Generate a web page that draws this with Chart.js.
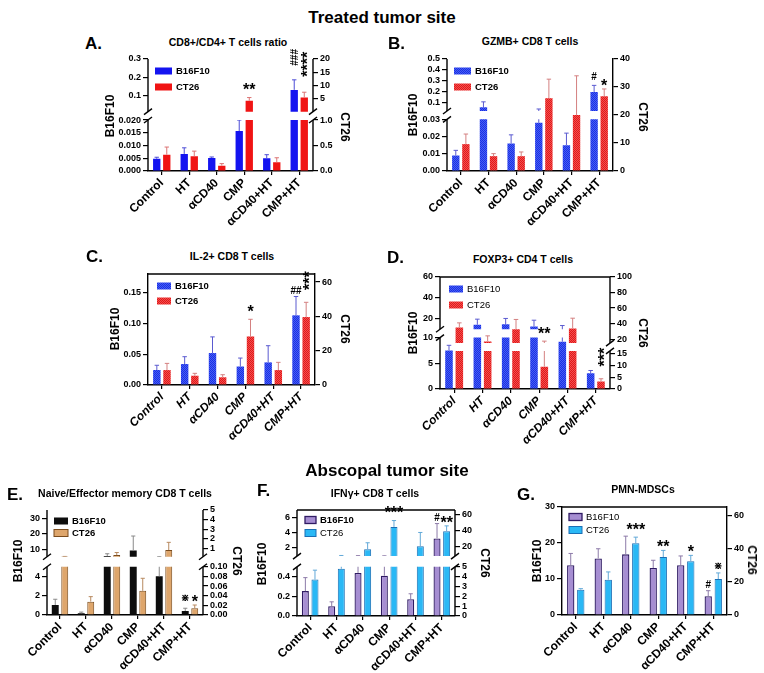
<!DOCTYPE html>
<html lang="en">
<head>
<meta charset="utf-8">
<title>Treated and abscopal tumor site</title>
<script src="https://cdn.jsdelivr.net/npm/chart.js"></script>
<style>
  body { margin: 0; background: #fff; }
  #fig { position: relative; width: 764px; height: 673px; overflow: hidden;
         font-family: "Liberation Sans", Arial, sans-serif; color: #000; }
  #fig canvas { position: absolute; }
  .t { position: absolute; font-weight: bold; white-space: nowrap; line-height: 1; }
</style>
</head>
<body>
<div id="fig"></div>
<script>
// ---- data ----
const cats = ['Control', 'HT', 'αCD40', 'CMP', 'αCD40+HT', 'CMP+HT'];
const seriesNames = ['B16F10', 'CT26'];

// A. CD8+/CD4+ T cells ratio
const aB16 = [0.0048, 0.0067, 0.0051, 0.0157, 0.005, 0.131];
const aB16Err = [0.0054, 0.0091, 0.0055, 0.020, 0.0064, 0.186];
const aCT26 = [0.32, 0.29, 0.105, 4.3, 0.17, 5.5];
const aCT26Err = [0.47, 0.39, 0.145, 5.5, 0.26, 7.5];
const aTicksL = ['0.000', '0.005', '0.010', '0.015', '0.020', '0.1', '0.2', '0.3'];
const aTicksR = ['0.0', '0.5', '1.0', '5', '10', '15', '20'];
const aMarks = [[1, 3, '**'], [0, 5, '####', 'v'], [1, 5, '****', 'v']];

// B. GZMB+ CD8 T cells
const bB16 = [0.009, 0.06, 0.016, 0.028, 0.015, 0.2];
const bB16Err = [0.012, 0.11, 0.021, 0.045, 0.022, 0.26];
const bCT26 = [9.6, 5.3, 5.3, 26, 20, 26.7];
const bCT26Err = [13.2, 6.2, 6.8, 32.8, 34, 29.3];
const bTicksL = ['0.00', '0.01', '0.02', '0.03', '0.1', '0.2', '0.3', '0.4', '0.5'];
const bTicksR = ['0', '10', '20', '30', '40'];
const bMarks = [[0, 5, '#'], [1, 5, '*']];

// C. IL-2+ CD8 T cells
const cB16 = [0.0243, 0.034, 0.0518, 0.030, 0.0367, 0.113];
const cB16Err = [0.032, 0.0459, 0.078, 0.0437, 0.0637, 0.1435];
const cCT26 = [8.7, 5.4, 4.5, 28.3, 8.7, 39.6];
const cCT26Err = [12.6, 6.8, 6.0, 38.3, 13.2, 48.2];
const cTicksL = ['0.00', '0.05', '0.10', '0.15'];
const cTicksR = ['0', '20', '40', '60'];
const cMarks = [[1, 3, '*'], [0, 5, '##'], [1, 5, '***', 'v']];

// D. FOXP3+ CD4 T cells
const dB16 = [7.5, 14.2, 14.8, 12.6, 9.2, 3.05];
const dB16Err = [8.5, 19.6, 20.3, 18.6, 13.5, 3.6];
const dCT26 = [35, 17, 32.9, 9.4, 33.8, 3.1];
const dCT26Err = [41, 24.3, 45.4, 17.5, 47, 4.3];
const dTicksL = ['0', '5', '10', '20', '40', '60'];
const dTicksR = ['0', '5', '10', '15', '20', '40', '60', '80', '100'];
const dMarks = [[1, 3, '**'], [1, 5, '***', 'v']];

// E. Naive/Effector memory CD8 T cells
const eB16 = [1.04, 0.17, 6, 9.4, 4, 0.42];
const eB16Err = [1.63, 0.3, 7.4, 18.7, 5.6, 0.7];
const eCT26 = [0.15, 0.0276, 0.3, 0.05, 0.83, 0.0138];
const eCT26Err = [0.16, 0.038, 0.57, 0.076, 1.63, 0.0207];
const eTicksL = ['0', '2', '4', '10', '20', '30'];
const eTicksR = ['0.00', '0.02', '0.04', '0.06', '0.08', '0.10', '1', '2', '3', '4', '5'];
const eMarks = [[0, 5, '⋇'], [1, 5, '*']];

// F. IFNγ+ CD8 T cells
const fB16 = [0.253, 0.1, 0.438, 0.41, 0.171, 3.24];
const fB16Err = [0.39, 0.144, 0.95, 0.93, 0.226, 5.2];
const fCT26 = [3.7, 4.8, 17, 45, 20.7, 39.6];
const fCT26Err = [4.66, 9, 25, 53, 38, 46.3];
const fTicksL = ['0.0', '0.2', '0.4', '2', '4', '6'];
const fTicksR = ['0', '1', '2', '3', '4', '5', '20', '40', '60'];
const fMarks = [[1, 3, '***'], [0, 5, '#'], [1, 5, '**']];

// G. PMN-MDSCs
const gB16 = [13.8, 15.7, 16.85, 13.05, 13.8, 5.2];
const gB16Err = [17.1, 18.4, 21.9, 15.2, 16.4, 6.75];
const gCT26 = [15.3, 21.3, 43.3, 35, 32.4, 21.7];
const gCT26Err = [15.9, 26, 47, 39, 36, 25.4];
const gTicksL = ['0', '10', '20', '30'];
const gTicksR = ['0', '20', '40', '60'];
const gMarks = [[1, 2, '***'], [1, 3, '**'], [1, 4, '*'], [0, 5, '#'], [1, 5, '⋇']];

const FONT = '"Liberation Sans", Arial, sans-serif';

// small dotted texture like the GraphPad fill in B-D
function texture(a, b) {
  const c = document.createElement('canvas');
  c.width = c.height = 2;
  const g = c.getContext('2d');
  g.fillStyle = a; g.fillRect(0, 0, 2, 2);
  g.fillStyle = b; g.fillRect(0, 0, 1, 1); g.fillRect(1, 1, 1, 1);
  return g.createPattern(c, 'repeat');
}

const STYLES = {
  solid: [{ bg: '#1414f0', bd: '#1414f0', bw: 0, err: '#4c4cd6' },
          { bg: '#f01414', bd: '#f01414', bw: 0, err: '#dc7474' }],
  tex:   [{ bg: texture('#1a2ee6', '#4760f2'), bd: '#1a2ee6', bw: 0, err: '#5a5ad0' },
          { bg: texture('#e21818', '#f25050'), bd: '#e21818', bw: 0, err: '#d48080' }],
  bt:    [{ bg: '#0d0d0d', bd: '#000', bw: 0, err: '#8a8a8a' },
          { bg: '#dea66c', bd: '#7a4b1c', bw: 1, err: '#b88a60' }],
  pb:    [{ bg: '#a68ed2', bd: '#2f1b63', bw: 1.3, err: '#8c7aa8' },
          { bg: '#2ab8f5', bd: '#1a6fb5', bw: 1, err: '#62a9d8' }]
};

// plot rectangles [left, top, right, bottom] and axis breaks
const PANELS = [
  { id: 'A', area: [148, 59, 313, 171], style: 'solid', italic: false, box: false,
    series: [aB16, aB16Err, aCT26, aCT26Err], marks: aMarks,
    yL: { ticks: aTicksL, brk: { lo: [0, 0.02], hi: [0.012, 0.3], lf: 0.455, gf: 0.075 } },
    yR: { ticks: aTicksR, brk: { lo: [0, 1], hi: [0.2, 20], lf: 0.455, gf: 0.075 } },
    legend: { x: 7, y: [12, 28], w: 17, weight: ['bold', 'bold'] } },
  { id: 'B', area: [447, 59, 613, 171], style: 'tex', italic: false, box: false,
    series: [bB16, bB16Err, bCT26, bCT26Err], marks: bMarks,
    yL: { ticks: bTicksL, brk: { lo: [0, 0.03], hi: [0.027, 0.5], lf: 0.461, gf: 0.075 } },
    yR: { ticks: bTicksR, range: [0, 40] },
    legend: { x: 7, y: [12, 28], w: 17, weight: ['bold', 'bold'] } },
  { id: 'C', area: [148, 274, 315, 385], style: 'tex', italic: true, box: true,
    series: [cB16, cB16Err, cCT26, cCT26Err], marks: cMarks,
    yL: { ticks: cTicksL, range: [0, 0.18] },
    yR: { ticks: cTicksR, range: [0, 64.7] },
    legend: { x: 9, y: [12, 27], w: 14, weight: ['bold', 'bold'] } },
  { id: 'D', area: [440, 277, 610, 389], style: 'tex', italic: true, box: true,
    series: [dB16, dB16Err, dCT26, dCT26Err], marks: dMarks,
    yL: { ticks: dTicksL, brk: { lo: [0, 10], hi: [10, 60], lf: 0.459, gf: 0.075 } },
    yR: { ticks: dTicksR, brk: { lo: [0, 16], hi: [15, 100], lf: 0.34, gf: 0.07 } },
    legend: { x: 9, y: [12, 28], w: 14, weight: ['normal', 'normal'] } },
  { id: 'E', area: [47, 510, 203, 615], style: 'bt', italic: false, box: false,
    series: [eB16, eB16Err, eCT26, eCT26Err], marks: eMarks,
    yL: { ticks: eTicksL, brk: { lo: [0, 5], hi: [5.5, 35.3], lf: 0.46, gf: 0.095 } },
    yR: { ticks: eTicksR, brk: { lo: [0, 0.1], hi: [0.13, 5], lf: 0.46, gf: 0.095 } },
    legend: { x: 7, y: [11, 23], w: 14, weight: ['bold', 'bold'] } },
  { id: 'F', area: [297, 510, 455, 616], style: 'pb', italic: false, box: true,
    series: [fB16, fB16Err, fCT26, fCT26Err], marks: fMarks,
    yL: { ticks: fTicksL, brk: { lo: [0, 0.5], hi: [0.89, 7], lf: 0.464, gf: 0.101 } },
    yR: { ticks: fTicksR, brk: { lo: [0, 5], hi: [8.2, 66.3], lf: 0.464, gf: 0.101 } },
    legend: { x: 8, y: [10, 23], w: 11, weight: ['bold', 'normal'] } },
  { id: 'G', area: [562, 507, 727, 615], style: 'pb', italic: false, box: true,
    series: [gB16, gB16Err, gCT26, gCT26Err], marks: gMarks,
    yL: { ticks: gTicksL, range: [0, 30] },
    yR: { ticks: gTicksR, range: [0, 65.2] },
    legend: { x: 7, y: [10, 23], w: 13, weight: ['normal', 'normal'] } }
];

const CFG = {};

// y scale with an optional broken axis (two linear segments)
class BrokenScale extends Chart.LinearScale {
  cfg() { return CFG[this.chart.canvas.id][this.id]; }
  buildTicks() { return this.cfg().ticks.map(t => ({ value: parseFloat(t) })); }
  segs() {
    const b = this.cfg().brk, h = this.bottom - this.top;
    const loTop = this.bottom - b.lf * h;
    return { loTop: loTop, hiBot: loTop - b.gf * h };
  }
  getPixelForValue(v) {
    const c = this.cfg(), b = c.brk;
    if (!b) return this.bottom - (v - c.range[0]) / (c.range[1] - c.range[0]) * (this.bottom - this.top);
    const s = this.segs();
    if (v <= b.lo[1]) return this.bottom - (v - b.lo[0]) / (b.lo[1] - b.lo[0]) * (this.bottom - s.loTop);
    if (v >= b.hi[0]) return s.hiBot - (v - b.hi[0]) / (b.hi[1] - b.hi[0]) * (s.hiBot - this.top);
    return (s.loTop + s.hiBot) / 2;
  }
  getValueForPixel(p) {
    const c = this.cfg(), b = c.brk;
    if (!b) return c.range[0] + (this.bottom - p) / (this.bottom - this.top) * (c.range[1] - c.range[0]);
    const s = this.segs();
    if (p >= s.loTop) return b.lo[0] + (this.bottom - p) / (this.bottom - s.loTop) * (b.lo[1] - b.lo[0]);
    if (p <= s.hiBot) return b.hi[0] + (s.hiBot - p) / (s.hiBot - this.top) * (b.hi[1] - b.hi[0]);
    return b.lo[1];
  }
}
BrokenScale.id = 'broken';
BrokenScale.defaults = Chart.LinearScale.defaults;
Chart.register(BrokenScale);

// clip bars to the two segments of a broken axis, then draw the SD bars
const breakClip = {
  id: 'breakClip',
  beforeDatasetDraw(chart, args) {
    const ctx = chart.ctx, a = chart.chartArea;
    const sc = chart.scales[args.meta.yAxisID];
    ctx.save();
    if (sc.cfg().brk) {
      const s = sc.segs();
      ctx.beginPath();
      ctx.rect(a.left - 2, a.top - 60, a.width + 4, s.hiBot - a.top + 60);
      ctx.rect(a.left - 2, s.loTop, a.width + 4, a.bottom - s.loTop);
      ctx.clip();
    }
  },
  afterDatasetDraw(chart, args) {
    const ctx = chart.ctx, meta = args.meta;
    const ds = chart.data.datasets[args.index];
    const sc = chart.scales[meta.yAxisID];
    ctx.strokeStyle = ds.errColor;
    ctx.lineWidth = 1;
    meta.data.forEach((el, i) => {
      const y = sc.getPixelForValue(ds.err[i]);
      const half = el.width * 0.3;
      ctx.beginPath();
      ctx.moveTo(el.x, el.y);
      ctx.lineTo(el.x, y);
      ctx.moveTo(el.x - half, y);
      ctx.lineTo(el.x + half, y);
      ctx.stroke();
    });
    ctx.restore();
  }
};

// axis lines with break marks, optional top frame, legend and significance marks
const panelDeco = {
  id: 'panelDeco',
  afterDraw(chart) {
    const ctx = chart.ctx, a = chart.chartArea, p = CFG[chart.canvas.id];
    ctx.save();
    ctx.strokeStyle = '#000';
    ctx.lineWidth = 1.4;
    if (p.box) {
      ctx.beginPath(); ctx.moveTo(a.left, a.top); ctx.lineTo(a.right, a.top); ctx.stroke();
    }
    ['yL', 'yR'].forEach(id => {
      const sc = chart.scales[id];
      if (!sc.cfg().brk) return;
      const x = id === 'yL' ? a.left : a.right;
      const s = sc.segs();
      ctx.beginPath();
      ctx.moveTo(x, a.top); ctx.lineTo(x, s.hiBot);
      ctx.moveTo(x, s.loTop); ctx.lineTo(x, a.bottom);
      ctx.stroke();
      [s.hiBot, s.loTop].forEach(y => {
        ctx.beginPath(); ctx.moveTo(x - 4, y + 3); ctx.lineTo(x + 4, y - 3); ctx.stroke();
      });
    });

    // legend inside the plot
    const lg = p.legend;
    chart.data.datasets.forEach((ds, i) => {
      const x = a.left + lg.x, y = a.top + lg.y[i];
      ctx.fillStyle = ds.backgroundColor;
      ctx.fillRect(x, y - 3.5, lg.w, 7);
      if (ds.borderWidth) {
        ctx.strokeStyle = ds.borderColor; ctx.lineWidth = ds.borderWidth;
        ctx.strokeRect(x, y - 3.5, lg.w, 7);
      }
      ctx.fillStyle = '#000';
      ctx.font = lg.weight[i] + ' 9.5px ' + FONT;
      ctx.textAlign = 'left'; ctx.textBaseline = 'middle';
      ctx.fillText(ds.label, x + lg.w + 4, y + 0.5);
    });

    // stars and hashes over the error bars
    p.marks.forEach(mk => {
      const ds = chart.data.datasets[mk[0]], meta = chart.getDatasetMeta(mk[0]);
      const el = meta.data[mk[1]], sc = chart.scales[meta.yAxisID];
      const yTop = Math.min(sc.getPixelForValue(ds.err[mk[1]]), el.y) - 3;
      const star = mk[2].indexOf('*') >= 0, vert = mk[3] === 'v';
      ctx.fillStyle = '#000';
      ctx.font = 'bold ' + (star ? 16 : 10) + 'px ' + FONT;
      const m = ctx.measureText(mk[2]);
      ctx.textBaseline = 'alphabetic';
      if (vert) {
        ctx.save();
        ctx.translate(el.x, yTop);
        ctx.rotate(-Math.PI / 2);
        ctx.textAlign = 'left';
        ctx.fillText(mk[2], m.actualBoundingBoxLeft, (m.actualBoundingBoxAscent - m.actualBoundingBoxDescent) / 2);
        ctx.restore();
      } else {
        ctx.textAlign = 'center';
        ctx.fillText(mk[2], el.x, yTop - m.actualBoundingBoxDescent);
      }
    });
    ctx.restore();
  }
};

function yAxis(pos, axisCfg) {
  const range = axisCfg.brk ? [axisCfg.brk.lo[0], axisCfg.brk.hi[1]] : axisCfg.range;
  return {
    type: 'broken',
    position: pos,
    min: range[0],
    max: range[1],
    afterFit: s => { s.width = pos === 'left' ? 45 : 35; },
    grid: { drawOnChartArea: false, drawTicks: true, tickLength: 5, color: '#000', lineWidth: 1.2 },
    border: { display: !axisCfg.brk, color: '#000', width: 1.4 },
    ticks: {
      autoSkip: false, padding: 2, color: '#000',
      font: { size: 9, weight: 'bold', family: FONT },
      callback: (v, i) => axisCfg.ticks[i]
    }
  };
}

const fig = document.getElementById('fig');

PANELS.forEach(p => {
  const [L, T, R, B] = p.area;
  const padL = 45, padR = 35, padT = 10, padB = 75;
  const cv = document.createElement('canvas');
  cv.id = 'chart' + p.id;
  cv.width = R - L + padL + padR;
  cv.height = B - T + padT + padB;
  cv.style.left = (L - padL) + 'px';
  cv.style.top = (T - padT) + 'px';
  cv.style.width = cv.width + 'px';
  cv.style.height = cv.height + 'px';
  fig.appendChild(cv);
  CFG[cv.id] = { yL: p.yL, yR: p.yR, box: p.box, legend: p.legend, marks: p.marks };

  const st = STYLES[p.style];
  const mk = (k, axis) => ({
    label: seriesNames[k],
    data: p.series[k * 2],
    err: p.series[k * 2 + 1],
    yAxisID: axis,
    backgroundColor: st[k].bg,
    borderColor: st[k].bd,
    borderWidth: st[k].bw,
    errColor: st[k].err,
    categoryPercentage: 0.73,
    barPercentage: 0.73
  });

  new Chart(cv, {
    type: 'bar',
    data: { labels: cats, datasets: [mk(0, 'yL'), mk(1, 'yR')] },
    options: {
      responsive: false,
      animation: false,
      layout: { padding: { top: padT, left: 0, right: 0, bottom: 0 } },
      plugins: { legend: { display: false }, tooltip: { enabled: false } },
      scales: {
        x: {
          afterFit: s => { s.height = padB; },
          grid: { offset: false, drawOnChartArea: false, tickLength: 4, color: '#000', lineWidth: 1.2 },
          border: { color: '#000', width: 1.4 },
          ticks: {
            autoSkip: false, minRotation: 45, maxRotation: 45, padding: 1, color: '#000',
            font: { size: 12, weight: 'bold', style: p.italic ? 'italic' : 'normal', family: FONT }
          }
        },
        yL: yAxis('left', p.yL),
        yR: yAxis('right', p.yR)
      }
    },
    plugins: [breakClip, panelDeco]
  });
});

// headings, panel letters, titles and axis names
function label(text, x, y, size, mode) {
  const d = document.createElement('div');
  d.className = 't';
  d.textContent = text;
  d.style.left = x + 'px';
  d.style.top = y + 'px';
  d.style.fontSize = size + 'px';
  if (mode === 'left') d.style.transform = 'translate(0,-50%)';
  else if (mode === 'up') d.style.transform = 'translate(-50%,-50%) rotate(-90deg)';
  else if (mode === 'down') d.style.transform = 'translate(-50%,-50%) rotate(90deg)';
  else d.style.transform = 'translate(-50%,-50%)';
  fig.appendChild(d);
}

label('Treated tumor site', 382, 17, 17);
label('Abscopal tumor site', 387, 470, 17);

const panelText = [
  ['A.', 85, 43, 'CD8+/CD4+ T cells ratio', 228, 42, 110, 116, 345, 127],
  ['B.', 388, 43, 'GZMB+ CD8 T cells', 530, 41, 413, 115, 643, 117],
  ['C.', 86, 256, 'IL-2+ CD8 T cells', 232, 256, 115, 329, 345, 329],
  ['D.', 387, 257, 'FOXP3+ CD4 T cells', 523, 259, 413, 333, 643, 333],
  ['E.', 7, 494, 'Naive/Effector memory CD8 T cells', 125, 493, 18, 561, 237, 561],
  ['F.', 257, 490, 'IFNγ+ CD8 T cells', 375, 493, 262, 564, 485, 563],
  ['G.', 517, 494, 'PMN-MDSCs', 643, 489, 537, 561, 752, 560]
];
panelText.forEach(t => {
  label(t[0], t[1], t[2], 17, 'left');
  label(t[3], t[4], t[5], 10.5);
  label('B16F10', t[6], t[7], 12, 'up');
  label('CT26', t[8], t[9], 12, 'down');
});
</script>
</body>
</html>
